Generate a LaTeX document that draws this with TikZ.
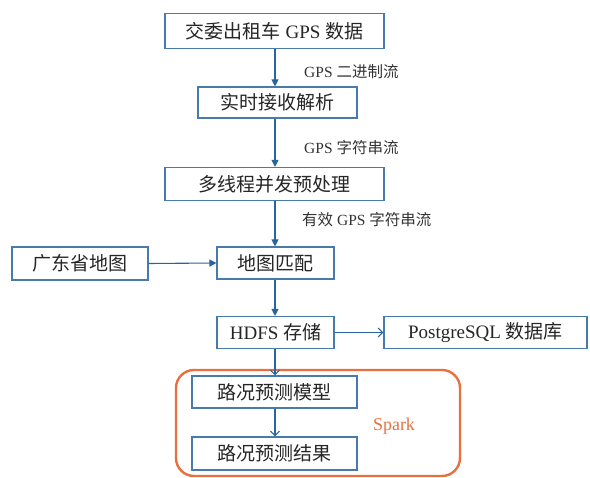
\documentclass[tikz,border=0pt]{standalone}
\usepackage{fontspec}
\setmainfont{Liberation Serif}
\newfontfamily\cjk{Noto Sans CJK SC}
\usetikzlibrary{arrows.meta}
\definecolor{boxblue}{RGB}{72,122,170}
\definecolor{arrblue}{RGB}{40,100,160}
\definecolor{sparkorange}{RGB}{232,112,62}
\tikzset{
  box/.style={draw=boxblue, line width=1.1pt, fill=white, rectangle, inner sep=0pt, font=\fontsize{19}{21}\selectfont, text=black!85},
  lbl/.style={font=\fontsize{15.5}{17}\selectfont, text=black!80, anchor=west, inner sep=0pt},
  flow/.style={draw=arrblue, line width=1.1pt, -{Triangle[width=7pt,length=7pt]}},
  oflow/.style={draw=arrblue, line width=1.1pt, -{Straight Barb[width=9pt,length=4.5pt]}}
}
\begin{document}
\begin{tikzpicture}[x=1pt,y=-1pt]
\useasboundingbox (0,0) rectangle (590,478);
\node[box, minimum width=219pt, minimum height=35pt] (b1) at (274.5,31) {{\cjk 交委出租车} GPS {\cjk 数据}};
\node[box, minimum width=159pt, minimum height=31pt] (b2) at (277.5,102.5) {\cjk 实时接收解析};
\node[box, minimum width=219pt, minimum height=33pt] (b3) at (274.5,184) {\cjk 多线程并发预处理};
\node[box, minimum width=136pt, minimum height=33pt] (b4) at (80,263.5) {\cjk 广东省地图};
\node[box, minimum width=117pt, minimum height=32pt] (b5) at (275.5,263) {\cjk 地图匹配};
\node[box, minimum width=117pt, minimum height=32pt] (b6) at (275.5,332.5) {HDFS {\cjk 存储}};
\node[box, minimum width=203pt, minimum height=32pt] (b7) at (485.5,332.5) {PostgreSQL {\cjk 数据库}};
\node[draw=sparkorange, line width=2.4pt, rounded corners=18pt, minimum width=284pt, minimum height=106pt, inner sep=0pt] (spark) at (318,423) {};
\node[box, minimum width=165pt, minimum height=32pt] (b8) at (274.5,392) {\cjk 路况预测模型};
\node[box, minimum width=165pt, minimum height=33pt] (b9) at (274.5,453.5) {\cjk 路况预测结果};
\node[font=\fontsize{18}{20}\selectfont, text=sparkorange, inner sep=0pt] (sp) at (394,426) {Spark};

\draw[flow] (b1.south -| 275,0) -- (b2.north -| 275,0);
\draw[flow] (b2.south -| 275,0) -- (b3.north -| 275,0);
\draw[flow] (b3.south -| 275,0) -- (b5.north -| 275,0);
\draw[flow] (b4.east) -- (b5.west);
\draw[flow] (b5.south -| 275,0) -- (b6.north -| 275,0);
\draw[oflow] (b6.east) -- (b7.west);
\draw[oflow] (b6.south -| 275,0) -- (b8.north -| 275,0);
\draw[oflow] (b8.south -| 275,0) -- (b9.north -| 275,0);

\node[lbl] (l1) at (304,72) {GPS {\cjk 二进制流}};
\node[lbl] (l2) at (304,148) {GPS {\cjk 字符串流}};
\node[lbl] (l3) at (302,220) {{\cjk 有效} GPS {\cjk 字符串流}};
\end{tikzpicture}
\end{document}
